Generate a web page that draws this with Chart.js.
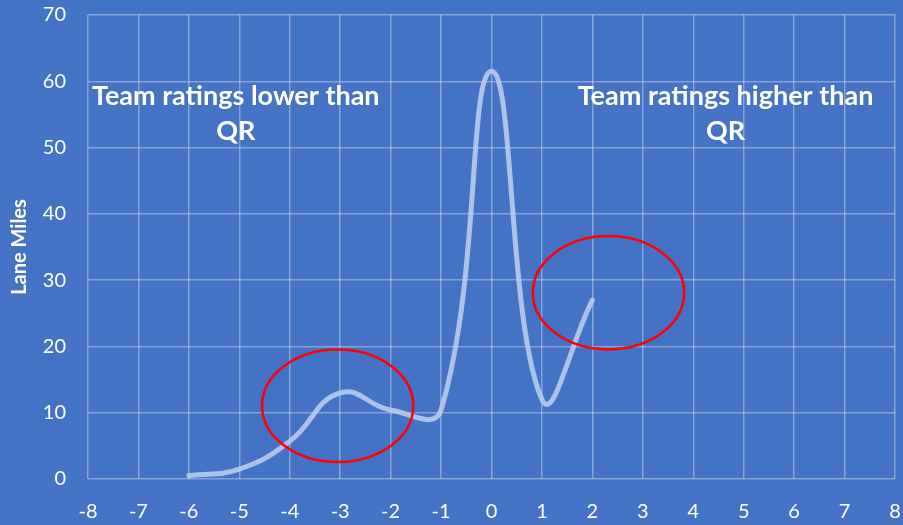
<!DOCTYPE html>
<html>
<head>
<meta charset="utf-8">
<script src="https://cdn.jsdelivr.net/npm/chart.js@4"></script>
<style>
  html, body { margin: 0; padding: 0; background: #4472C4; }
  #wrap { width: 903px; height: 525px; }
</style>
</head>
<body>
<div id="wrap"><canvas id="chart"></canvas></div>
<script>
const ratingDiff = [-6, -5, -4, -3, -2, -1, 0, 1, 2];
const laneMiles = [0.5, 1.5, 5.7, 13, 10.4, 10.4, 61.5, 12, 27];

const xTicks = { min: -8, max: 8, step: 1 };
const yTicks = { min: 0, max: 70, step: 10 };

// callouts in data coordinates
const ellipses = [
  { x: -3.05, y: 11.05, rx: 1.5, ry: 8.5 },
  { x: 2.32, y: 28.1, rx: 1.5, ry: 8.55 },
];
const notes = [
  { x: -5.07, lines: ["Team ratings lower than", "QR"] },
  { x: 4.64, lines: ["Team ratings higher than", "QR"] },
];

const fontFamily = "Lato, 'Open Sans', sans-serif";

const overlay = {
  id: "overlay",
  afterDatasetsDraw(chart) {
    const { ctx, scales } = chart;
    const sx = scales.x, sy = scales.y;
    const unitX = sx.getPixelForValue(1) - sx.getPixelForValue(0);
    const unitY = sy.getPixelForValue(0) - sy.getPixelForValue(1);
    ctx.save();
    ctx.strokeStyle = "#FF0000";
    ctx.lineWidth = 2.5;
    ellipses.forEach(e => {
      ctx.beginPath();
      ctx.ellipse(sx.getPixelForValue(e.x), sy.getPixelForValue(e.y),
        e.rx * unitX, e.ry * unitY, 0, 0, Math.PI * 2);
      ctx.stroke();
    });
    ctx.fillStyle = "#FFFFFF";
    ctx.font = "bold 27px " + fontFamily;
    ctx.textAlign = "center";
    ctx.textBaseline = "middle";
    notes.forEach(n => {
      const px = sx.getPixelForValue(n.x);
      ctx.fillText(n.lines[0], px, 96);
      ctx.fillText(n.lines[1], px, 131);
    });
    ctx.restore();
  }
};

Chart.defaults.color = "#FFFFFF";
Chart.defaults.font.family = fontFamily;

new Chart(document.getElementById("chart"), {
  type: "scatter",
  data: {
    datasets: [{
      label: "Lane Miles",
      data: ratingDiff.map((x, i) => ({ x: x, y: laneMiles[i] })),
      showLine: true,
      borderColor: "rgba(190, 208, 238, 0.85)",
      borderWidth: 5,
      borderCapStyle: "round",
      tension: 0.45,
      pointRadius: 0,
      fill: false,
    }],
  },
  options: {
    responsive: true,
    maintainAspectRatio: false,
    animation: false,
    layout: { padding: { top: 15, right: 8, left: 0, bottom: 0 } },
    plugins: {
      legend: { display: false },
      tooltip: { enabled: false },
    },
    scales: {
      x: {
        type: "linear",
        min: xTicks.min,
        max: xTicks.max,
        ticks: { stepSize: xTicks.step, padding: 21, font: { size: 20 } },
        grid: { color: "rgba(255,255,255,0.35)", lineWidth: 1.5, drawTicks: false },
        border: { display: false },
        afterFit(scale) {
          scale.height = 46;
          scale.paddingLeft = 0;
          scale.paddingRight = 0;
        },
      },
      y: {
        min: yTicks.min,
        max: yTicks.max,
        ticks: { stepSize: yTicks.step, padding: 22, font: { size: 20 } },
        grid: { color: "rgba(255,255,255,0.35)", lineWidth: 1.5, drawTicks: false },
        border: { display: false },
        title: {
          display: true,
          text: "Lane Miles",
          font: { size: 20, weight: "bold" },
          padding: { top: 8, bottom: 0 },
        },
        afterFit(scale) {
          scale.width = 88;
          scale.paddingTop = 0;
          scale.paddingBottom = 0;
        },
      },
    },
  },
  plugins: [overlay],
});
</script>
</body>
</html>
